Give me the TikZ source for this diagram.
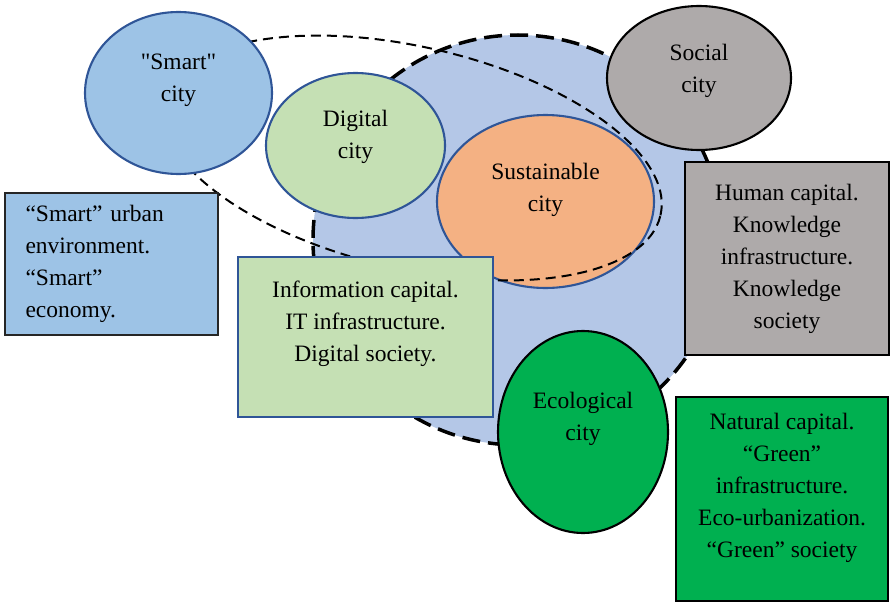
\documentclass[tikz,border=0pt]{standalone}
\usepackage{fontspec}
\setmainfont{Liberation Serif}
\usetikzlibrary{shapes.geometric,positioning}
\definecolor{edgeblue}{HTML}{2F5597}
\definecolor{coreblue}{HTML}{B4C7E7}
\definecolor{smartblue}{HTML}{9DC3E6}
\definecolor{digitgreen}{HTML}{C5E0B4}
\definecolor{sustorange}{HTML}{F4B183}
\definecolor{socgray}{HTML}{AEAAAA}
\definecolor{ecogreen}{HTML}{00B050}
\newcommand\diagfont{\fontsize{23.5pt}{32pt}\selectfont}
\tikzset{
    city/.style={draw=edgeblue, ellipse, line width=2.1pt, align=center},
    darkcity/.style={city, draw=black},
    infobox/.style={draw=black, rectangle, line width=2pt, align=center},
    zone/.style={draw, ellipse, line width=2pt, dash pattern=on 10pt off 6pt}
}

\begin{document}
\begin{tikzpicture}[x=1pt, y=-1pt, font=\diagfont]
    \useasboundingbox (0,0) rectangle (893,602);
    \node[circle, draw, fill=coreblue, line width=3.5pt, dash pattern=on 18pt off 8pt, minimum size=410pt] (core) at (518,240) {};
    \node[city, fill=digitgreen, minimum width=179pt, minimum height=145pt, text depth=23pt] (digital) at (355.5,145.5) {Digital\\city};
    \node[city, fill=sustorange, minimum width=217pt, minimum height=173pt, text depth=29pt] (sustainable) at (545.5,201.5) {Sustainable\\city};
    % smart city zone
    \node[zone, minimum width=510pt, minimum height=222pt, rotate=-13] (smartzone) at (412,158) {};
    \node[city, fill=smartblue, minimum width=187pt, minimum height=162pt, text depth=31pt] (smart) at (178.5,93) {\textquotedbl Smart\textquotedbl\\city};
    \node[darkcity, fill=socgray, minimum width=184pt, minimum height=144pt, text depth=19pt] (social) at (699,78) {Social\\city};
    \node[darkcity, fill=ecogreen, minimum width=170pt, minimum height=202pt, text depth=31pt] (ecological) at (583,432) {Ecological\\city};

    \node[infobox, draw=black!85, fill=smartblue, minimum width=213pt, minimum height=142pt, text width=171pt, inner xsep=21pt, align=left] (smartbox) at (111,264) {“Smart” urban environment.\\“Smart”\\economy.};
    \node[infobox, draw=edgeblue, fill=digitgreen, minimum width=255pt, minimum height=160pt, text depth=31pt] (digitalbox) at (365.5,337) {Information capital.\\IT infrastructure.\\Digital society.};
    \node[infobox, fill=socgray, minimum width=204pt, minimum height=193pt] (socialbox) at (787,258.5) {Human capital.\\Knowledge\\infrastructure.\\Knowledge\\society};
    \node[infobox, fill=ecogreen, minimum width=212pt, minimum height=204pt, text depth=27pt] (ecobox) at (782,499) {Natural capital.\\“Green”\\infrastructure.\\Eco-urbanization.\\“Green” society};
\end{tikzpicture}
\end{document}
